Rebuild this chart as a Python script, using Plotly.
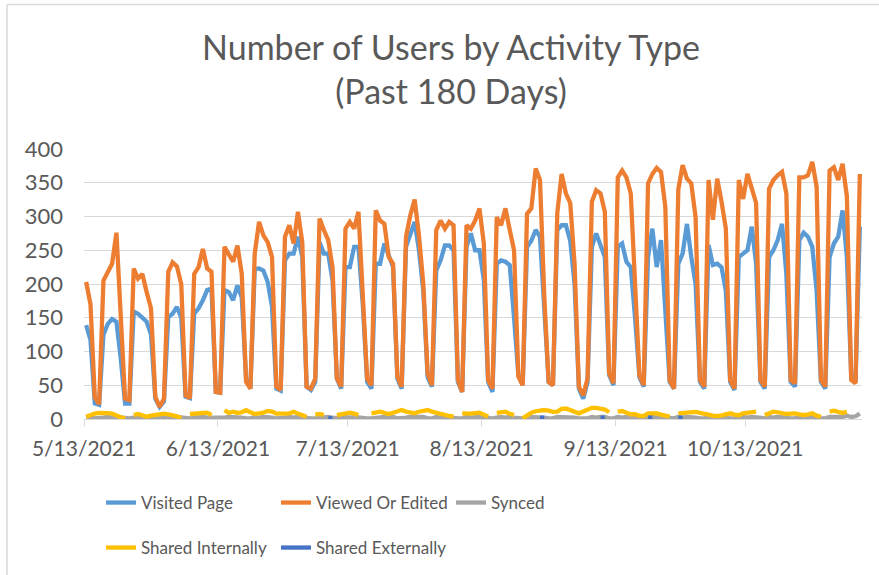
import pandas as pd
import plotly.graph_objects as go

start_date = "2021-05-13"
n_days = 180
dates = pd.date_range(start_date, periods=n_days, freq="D") + pd.Timedelta(hours=12)

visited_page = [
    139, 117, 23, 21, 125, 141, 148, 144, 90, 23,
    23, 159, 156, 151, 144, 125, 30, 18, 26, 151,
    156, 166, 150, 33, 31, 156, 164, 176, 191, 193,
    40, 39, 191, 188, 176, 198, 180, 60, 45, 222,
    223, 220, 203, 166, 45, 42, 235, 245, 245, 270,
    240, 48, 43, 55, 262, 245, 245, 205, 60, 45,
    225, 225, 255, 255, 170, 55, 45, 230, 230, 260,
    240, 225, 60, 45, 255, 275, 292, 250, 190, 62,
    48, 220, 235, 257, 257, 250, 55, 40, 255, 275,
    250, 250, 206, 55, 40, 230, 235, 233, 228, 150,
    65, 50, 255, 264, 280, 270, 150, 55, 50, 280,
    287, 287, 264, 200, 45, 30, 55, 255, 275, 257,
    240, 65, 50, 255, 260, 233, 225, 150, 62, 48,
    240, 282, 225, 265, 166, 55, 45, 230, 245, 289,
    240, 200, 55, 45, 258, 228, 230, 225, 190, 55,
    43, 240, 245, 250, 285, 230, 55, 45, 240, 250,
    265, 289, 215, 55, 48, 265, 276, 270, 255, 190,
    55, 45, 240, 260, 270, 309, 240, 65, 55, 285,
]

viewed_or_edited = [
    203, 170, 32, 22, 205, 217, 230, 276, 150, 30,
    28, 223, 208, 215, 188, 164, 33, 18, 30, 218,
    232, 226, 200, 35, 31, 215, 225, 252, 223, 218,
    40, 39, 255, 243, 233, 257, 215, 55, 45, 245,
    292, 272, 262, 240, 48, 43, 270, 287, 260, 307,
    262, 48, 45, 60, 297, 280, 265, 225, 60, 48,
    282, 292, 282, 307, 180, 60, 50, 309, 294, 289,
    240, 230, 63, 48, 270, 302, 325, 272, 200, 68,
    50, 280, 294, 282, 292, 287, 58, 40, 287, 282,
    294, 312, 260, 58, 45, 299, 287, 312, 280, 250,
    63, 50, 304, 312, 371, 354, 180, 55, 50, 305,
    363, 334, 320, 230, 48, 35, 60, 322, 339, 334,
    307, 68, 53, 358, 368, 358, 334, 200, 65, 50,
    349, 363, 372, 366, 314, 58, 45, 340, 376, 356,
    349, 299, 58, 48, 354, 295, 356, 322, 282, 58,
    45, 354, 326, 363, 340, 320, 58, 48, 341, 354,
    361, 366, 334, 58, 53, 358, 358, 361, 381, 344,
    58, 48, 368, 373, 354, 378, 330, 58, 53, 363,
]

synced = [
    2, 3, 1, 1, 2, 3, 2, 3, 2, 1,
    1, 2, 3, 2, 2, 1, 1, 1, 2, 3,
    2, 3, 2, 1, 1, 2, 3, 3, 2, 2,
    1, 1, 2, 3, 3, 2, 2, 1, 1, 3,
    2, 3, 3, 2, 1, 1, 2, 3, 2, 3,
    2, 1, 1, 1, 2, 3, 3, 2, 1, 1,
    3, 2, 3, 2, 2, 1, 1, 2, 3, 3,
    2, 3, 1, 1, 2, 3, 3, 4, 3, 1,
    1, 3, 2, 3, 2, 2, 1, 1, 3, 2,
    3, 3, 2, 1, 1, 2, 3, 2, 3, 2,
    1, 1, 3, 3, 2, 3, 2, 1, 1, 3,
    3, 2, 3, 2, 1, 1, 1, 3, 2, 3,
    3, 1, 1, 3, 2, 3, 2, 2, 1, 1,
    3, 3, 2, 3, 2, 1, 1, 3, 2, 3,
    3, 2, 1, 1, 3, 2, 3, 2, 2, 1,
    1, 3, 3, 2, 3, 2, 1, 1, 3, 2,
    3, 3, 2, 1, 1, 3, 2, 3, 3, 2,
    1, 1, 3, 3, 2, 3, 5, 3, 4, 8,
]

shared_internally = [
    3.4, 6, 8, 9, 9.3, 8.8, 8, 4.4, 2.5, 1,
    None, 5.9, 7.4, 5.5, 3.4, 5, 5.9, 8, 8, 7,
    5.9, 4, 1.5, None, 7.4, 8, 8.4, 9, 9.3, 5.9,
    None, None, 13, 9, 10.8, 9, 10, 13, 10, 7.5,
    8.5, 9.3, 12, 11, 8, 7.5, 8, 8.4, 10.8, 8,
    5, 3.4, None, 6.5, 7.5, 5.9, None, None, 5.9, 7,
    8.4, 9.3, 8, 5.9, None, None, 8.4, 9.5, 10.8, 9,
    7.4, 9.3, 11, 13.3, 11, 9, 8.4, 10.8, 12, 13.3,
    11, 9, 7.4, 5.9, 4.5, 3.4, None, 8.4, 7.6, 8,
    8.8, 9.3, 6.5, 3.4, None, 9, 9.8, 10.8, 7.8, 5.9,
    None, 1, 5.9, 9.5, 11.5, 12.8, 13.3, 12.3, 10.5, 11,
    15, 15.5, 13.3, 10.8, 8.4, 11, 13.3, 16.5, 16.5, 15.8,
    14, 10, None, 10.8, 12, 9.3, 7, 7, 4.8, 4.4,
    8.4, 8.4, 8.4, 6.5, 5.5, 3.4, None, 8.4, 8.8, 9.3,
    10, 10.5, 9, 8.4, 6.5, 5, 4.4, 5.5, 7, 8.4,
    6.5, 5.5, 8.4, 9, 9.5, 10.8, None, 5.9, 8.4, 10.8,
    10, 9, 7.4, 8, 8.4, 7, 5.9, 7, 8.4, 5,
    3.4, None, 10.8, 12.3, 10.5, 9, 10.8, None, None, None,
]

shared_externally = [None] * n_days
ext_days = [56, 57, 105, 106, 119, 120, 130, 131, 137, 138]
ext_vals = [1, 1, 2, 2, 2, 2, 2, 2, 2, 2]
for d, v in zip(ext_days, ext_vals):
    shared_externally[d] = v

tick_dates = ["2021-05-13", "2021-06-13", "2021-07-13", "2021-08-13", "2021-09-13", "2021-10-13"]
tick_labels = ["5/13/2021", "6/13/2021", "7/13/2021", "8/13/2021", "9/13/2021", "10/13/2021"]
y_ticks = [0, 50, 100, 150, 200, 250, 300, 350, 400]

W, H = 879, 575
L, R, T, B = 84, 17, 149, 156
pw = W - L - R
ph = H - T - B


def px_x(x):
    return (x - L) / pw


def px_y(y):
    return (H - B - y) / ph


FONT = "Lato, 'Open Sans', sans-serif"
TXT = "#595959"

# legend slot for each series: (legend id, left pixel, top pixel)
series = [
    ("Visited Page", visited_page, "#5B9BD5", "legend", 101, 485),
    ("Viewed Or Edited", viewed_or_edited, "#ED7D31", "legend2", 276, 485),
    ("Synced", synced, "#A5A5A5", "legend3", 451, 485),
    ("Shared Internally", shared_internally, "#FFC000", "legend4", 101, 530),
    ("Shared Externally", shared_externally, "#4472C4", "legend5", 276, 530),
]

fig = go.Figure()
legend_layout = {}
for name, vals, color, leg, lx, ly in series:
    fig.add_trace(go.Scatter(
        x=dates, y=vals, name=name, mode="lines",
        line=dict(color=color, width=4.3),
        connectgaps=False, legend=leg,
    ))
    legend_layout[leg] = dict(
        orientation="h", x=px_x(lx), xanchor="left", y=px_y(ly), yanchor="top",
        font=dict(size=17, color=TXT, family=FONT),
        bgcolor="rgba(0,0,0,0)", itemclick=False, itemdoubleclick=False,
    )

fig.update_layout(
    width=W, height=H,
    margin=dict(l=L, r=R, t=T, b=B, autoexpand=False),
    paper_bgcolor="white", plot_bgcolor="white",
    font=dict(family=FONT, color=TXT, size=21),
    title=dict(
        text="Number of Users by Activity Type<br>(Past 180 Days)",
        font=dict(family=FONT, size=34, color=TXT),
        x=451 / W, xanchor="center", xref="container",
        y=1 - 60 / H, yanchor="top", yref="container",
    ),
    xaxis=dict(
        type="date", automargin=False,
        range=["2021-05-13", "2021-11-09"],
        tickvals=tick_dates, ticktext=tick_labels,
        showgrid=False, zeroline=False,
        showline=True, linecolor="#D9D9D9", linewidth=1.3,
        ticks="outside", ticklen=6, tickcolor="#D9D9D9", tickwidth=1.3,
        ticklabelstandoff=5,
        tickfont=dict(size=21, color=TXT, family=FONT),
    ),
    yaxis=dict(
        range=[0, 400], tickvals=y_ticks, automargin=False,
        showgrid=True, gridcolor="#D9D9D9", gridwidth=1.3,
        zeroline=False, showline=False, ticks="",
        ticklabelstandoff=20,
        tickfont=dict(size=22, color=TXT, family=FONT),
    ),
    showlegend=True,
    hovermode=False,
    **legend_layout,
)

# outer chart border (top and left edges visible in the reference)
fig.add_shape(type="line", xref="paper", yref="paper",
              x0=px_x(7), x1=px_x(W + 2), y0=px_y(4.5), y1=px_y(4.5),
              line=dict(color="#D9D9D9", width=1.5), layer="below")
fig.add_shape(type="line", xref="paper", yref="paper",
              x0=px_x(7), x1=px_x(7), y0=px_y(4.5), y1=px_y(H + 2),
              line=dict(color="#D9D9D9", width=1.5), layer="below")

fig.write_html(
    "out.html",
    config={"displayModeBar": False},
    post_script="document.body.style.margin='0px';",
)
